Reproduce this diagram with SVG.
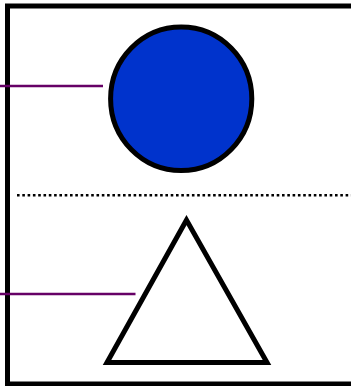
<svg xmlns="http://www.w3.org/2000/svg" width="351" height="386" viewBox="0 0 351 386">
<style>
.frame{fill:#ffffff;stroke:#000000;stroke-width:5}
.lead{stroke:#660066;stroke-width:2.5;fill:none}
.shape{stroke:#000000;stroke-width:5}
</style>
<rect width="351" height="386" fill="#ffffff"/>
<g id="frame">
<rect class="frame" x="7.5" y="6" width="360" height="378"/>
</g>
<g id="divider">
<line x1="17" y1="195.3" x2="351" y2="195.3" stroke="#000000" stroke-width="2.5" stroke-dasharray="2.6 2.7"/>
</g>
<g id="circle">
<ellipse class="shape" cx="181.2" cy="98.8" rx="70.6" ry="71.8" fill="#0033cc"/>
</g>
<g id="triangle">
<polygon class="shape" points="186.5,220 107,362.5 267,362.5" fill="#ffffff" stroke-linejoin="miter" stroke-miterlimit="10"/>
</g>
<g id="connectors">
<line class="lead" x1="0" y1="86" x2="103" y2="86"/>
<line class="lead" x1="0" y1="294" x2="135.5" y2="294"/>
</g>
</svg>
